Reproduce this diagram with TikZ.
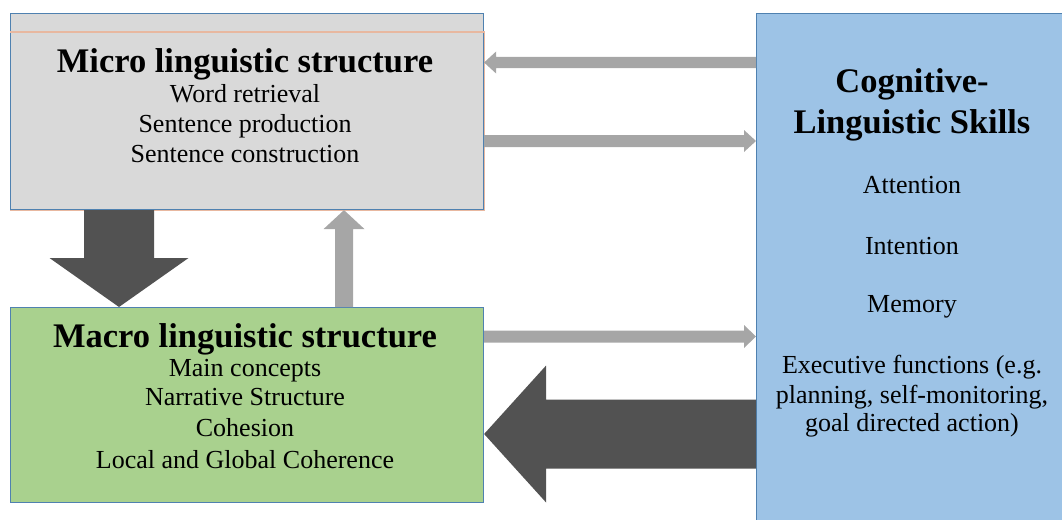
\documentclass[tikz,border=0pt]{standalone}
\usepackage{fontspec}
\setmainfont{Liberation Serif}
\usetikzlibrary{calc}
\definecolor{boxgray}{HTML}{D9D9D9}
\definecolor{boxgreen}{HTML}{A9D18E}
\definecolor{boxblue}{HTML}{9DC3E6}
\definecolor{bordblue}{HTML}{4F81B0}
\definecolor{bordorange}{HTML}{E8B8A0}
\definecolor{arrgray}{HTML}{A6A6A6}
\definecolor{arrdark}{HTML}{525252}
\newcommand\fatarrow[6]{%
  \fill[#1] let \p1=(#2), \p2=(#3), \n1={atan2(\y2-\y1,\x2-\x1)}, \n2={veclen(\x2-\x1,\y2-\y1)} in
    [shift={(\p1)}, rotate=\n1]
    (0,#4) -- ({\n2-#6},#4) -- ({\n2-#6},#5) -- (\n2,0) -- ({\n2-#6},-#5) -- ({\n2-#6},-#4) -- (0,-#4) -- cycle;}
\tikzset{
  box/.style={draw=bordblue, line width=1.1pt, inner sep=0pt, anchor=north west},
  title/.style={anchor=base, inner sep=0pt, font=\fontsize{34.5}{40}\selectfont\bfseries},
  item/.style={anchor=base, inner sep=0pt, font=\fontsize{26}{30}\selectfont},
  lightarrow/.style={arrgray},
  darkarrow/.style={arrdark}
}
\begin{document}
\begin{tikzpicture}[x=1pt,y=-1pt]
\useasboundingbox (0,0) rectangle (1062,519);
% boxes
\node[box, fill=boxgray, minimum width=473pt, minimum height=196pt] (micro) at (10,13) {};
\draw[bordorange, line width=1.1pt] ([yshift=-19pt]micro.north west) -- ([yshift=-19pt]micro.north east) -- (micro.south east) -- (micro.south west);
\node[box, fill=boxgreen, minimum width=473pt, minimum height=195pt] (macro) at (10,307) {};
\node[box, fill=boxblue, minimum width=330pt, minimum height=540pt] (cog) at (756,13) {};
% texts
\node[title] (t1) at (245,73) {Micro linguistic structure};
\node[item] (t1a) at (245,102) {Word retrieval};
\node[item] (t1b) at (245,132) {Sentence production};
\node[item] (t1c) at (245,162.5) {Sentence construction};
\node[title] (t2) at (245,347) {Macro linguistic structure};
\node[item] (t2a) at (245,376) {Main concepts};
\node[item] (t2b) at (245,405) {Narrative Structure};
\node[item] (t2c) at (245,436) {Cohesion};
\node[item] (t2d) at (245,468) {Local and Global Coherence};
\node[title] (t3) at (912,92.5) {Cognitive-};
\node[title] (t3b) at (912,133.5) {Linguistic Skills};
\node[item] (t3c) at (912,193) {Attention};
\node[item] (t3d) at (912,254) {Intention};
\node[item] (t3e) at (912,312.5) {Memory};
\node[item] (t3f) at (912,373) {Executive functions (e.g.};
\node[item] (t3g) at (912,403.5) {planning, self-monitoring,};
\node[item] (t3h) at (912,431) {goal directed action)};
% connector end points
\coordinate (a1s) at (cog.west |- 0,62.5);
\coordinate (a1e) at (micro.east |- 0,62.5);
\coordinate (a2s) at (micro.east |- 0,141);
\coordinate (a2e) at (cog.west |- 0,141);
\coordinate (a3s) at (macro.east |- 0,336.5);
\coordinate (a3e) at (cog.west |- 0,336.5);
\coordinate (a4s) at (cog.west |- 0,434);
\coordinate (a4e) at (macro.east |- 0,434);
\coordinate (a5s) at (micro.south -| 119,0);
\coordinate (a5e) at (macro.north -| 119,0);
\coordinate (a6s) at (macro.north -| 344,0);
\coordinate (a6e) at (micro.south -| 344,0);
% arrows
\fatarrow{lightarrow}{a1s}{a1e}{5.5}{11}{12}
\fatarrow{lightarrow}{a2s}{a2e}{6}{11}{12}
\fatarrow{lightarrow}{a3s}{a3e}{6}{11.5}{12}
\fatarrow{darkarrow}{a4s}{a4e}{34.5}{68.5}{62}
\fatarrow{darkarrow}{a5s}{a5e}{35}{69.5}{49}
\fatarrow{lightarrow}{a6s}{a6e}{9}{20.5}{19}
\end{tikzpicture}
\end{document}
